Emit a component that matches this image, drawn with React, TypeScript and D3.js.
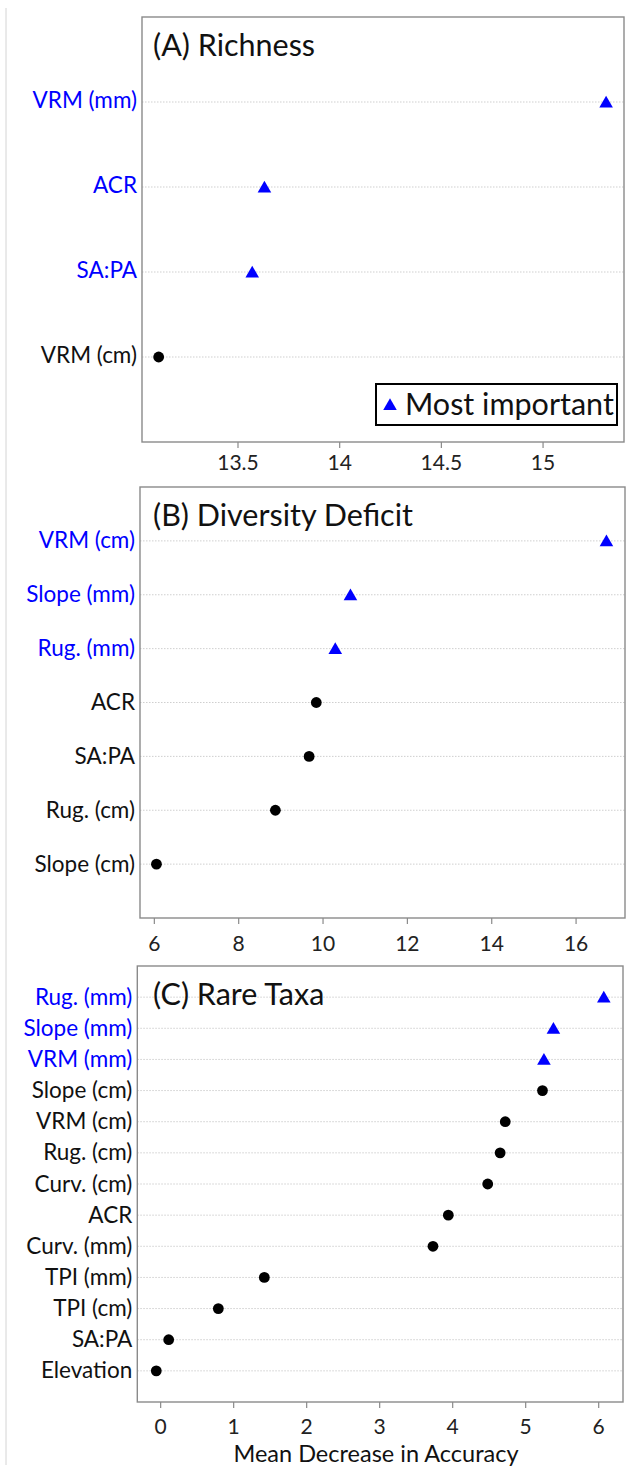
import * as d3 from "d3";
import React from "react";

// (A) Richness
const richnessVars = ["VRM (mm)", "ACR", "SA:PA", "VRM (cm)"];
const richnessMDA = [15.31, 13.63, 13.57, 13.11];
const richnessTop = [true, true, true, false];
const richnessTicks = [13.5, 14, 14.5, 15];

// (B) Diversity Deficit
const deficitVars = ["VRM (cm)", "Slope (mm)", "Rug. (mm)", "ACR", "SA:PA", "Rug. (cm)", "Slope (cm)"];
const deficitMDA = [16.72, 10.65, 10.29, 9.84, 9.67, 8.87, 6.05];
const deficitTop = [true, true, true, false, false, false, false];
const deficitTicks = [6, 8, 10, 12, 14, 16];

// (C) Rare Taxa
const rareVars = [
  "Rug. (mm)", "Slope (mm)", "VRM (mm)", "Slope (cm)", "VRM (cm)", "Rug. (cm)", "Curv. (cm)",
  "ACR", "Curv. (mm)", "TPI (mm)", "TPI (cm)", "SA:PA", "Elevation",
];
const rareMDA = [6.07, 5.38, 5.25, 5.23, 4.72, 4.65, 4.48, 3.94, 3.73, 1.42, 0.79, 0.11, -0.06];
const rareTop = [true, true, true, false, false, false, false, false, false, false, false, false, false];
const rareTicks = [0, 1, 2, 3, 4, 5, 6];

const FONT = "Lato, 'Open Sans', sans-serif";
const BLUE = "#0000ff";

type PanelProps = {
  title: string;
  vars: string[];
  values: number[];
  top: boolean[];
  ticks: number[];
  domain: [number, number];
  box: { left: number; right: number; top: number; bottom: number };
  tickBaseline: number;
  labelDy: number;
  legend?: boolean;
  xTitle?: string;
};

function Panel({ title, vars, values, top, ticks, domain, box, tickBaseline, labelDy, legend, xTitle }: PanelProps) {
  const x = d3.scaleLinear().domain(domain).range([box.left, box.right]);
  const y = d3.scalePoint<string>().domain(vars).range([box.top, box.bottom]).padding(1);
  const tri = d3.symbol().type(d3.symbolTriangle).size(80)();

  return (
    <g>
      {vars.map((v) => (
        <line key={"g" + v} x1={box.left} x2={box.right} y1={y(v)} y2={y(v)}
          stroke="#cfcfcf" strokeWidth={1} strokeDasharray="1.5,1.5" />
      ))}
      <rect x={box.left} y={box.top} width={box.right - box.left} height={box.bottom - box.top}
        fill="none" stroke="#8a8a8a" strokeWidth={1.4} />
      {ticks.map((t) => (
        <g key={"t" + t}>
          <line x1={x(t)} x2={x(t)} y1={box.bottom} y2={box.bottom + 6} stroke="#8a8a8a" strokeWidth={1.2} />
          <text x={x(t)} y={tickBaseline} textAnchor="middle" fontFamily={FONT} fontSize={21} fill="#222">
            {t}
          </text>
        </g>
      ))}
      {vars.map((v, i) => (
        <text key={"l" + v} x={box.left - 5} y={(y(v) as number) + labelDy} textAnchor="end"
          fontFamily={FONT} fontSize={22.5} fill={top[i] ? BLUE : "#111"}>
          {v}
        </text>
      ))}
      {vars.map((v, i) =>
        top[i] ? (
          <path key={"p" + v} d={tri as string} fill={BLUE}
            transform={`translate(${x(values[i])},${(y(v) as number) + 1.5})`} />
        ) : (
          <circle key={"p" + v} cx={x(values[i])} cy={y(v)} r={5.4} fill="#000" />
        )
      )}
      <text x={153} y={box.top + 39} fontFamily={FONT} fontSize={30.5} fill="#111">
        {title}
      </text>
      {legend && (
        <g>
          <rect x={376} y={384} width={241} height={41} fill="#fff" stroke="#000" strokeWidth={2} />
          <path d={tri as string} fill={BLUE} transform="translate(390,406)" />
          <text x={405} y={415} fontFamily={FONT} fontSize={30.5} fill="#111">Most important</text>
        </g>
      )}
      {xTitle && (
        <text x={376} y={1462} textAnchor="middle" fontFamily={FONT} fontSize={23.5} fill="#111">
          {xTitle}
        </text>
      )}
    </g>
  );
}

export default function App() {
  return (
    <div style={{ position: "absolute", left: 0, top: 0 }}>
      <svg width={631} height={1467} style={{ display: "block", background: "#fff" }}>
        <line x1={6} x2={6} y1={8} y2={1465} stroke="#d4d4d4" strokeWidth={1} />
        <Panel title="(A) Richness" vars={richnessVars} values={richnessMDA} top={richnessTop}
          ticks={richnessTicks} domain={[13.028, 15.398]}
          box={{ left: 142, right: 624, top: 17, bottom: 442 }} tickBaseline={470} labelDy={5.5} legend />
        <Panel title="(B) Diversity Deficit" vars={deficitVars} values={deficitMDA} top={deficitTop}
          ticks={deficitTicks} domain={[5.66, 17.16]}
          box={{ left: 140, right: 625, top: 487, bottom: 918 }} tickBaseline={951} labelDy={7.5} />
        <Panel title="(C) Rare Taxa" vars={rareVars} values={rareMDA} top={rareTop}
          ticks={rareTicks} domain={[-0.32, 6.333]}
          box={{ left: 137.3, right: 623, top: 966, bottom: 1402 }} tickBaseline={1434} labelDy={7.5}
          xTitle="Mean Decrease in Accuracy" />
      </svg>
    </div>
  );
}
